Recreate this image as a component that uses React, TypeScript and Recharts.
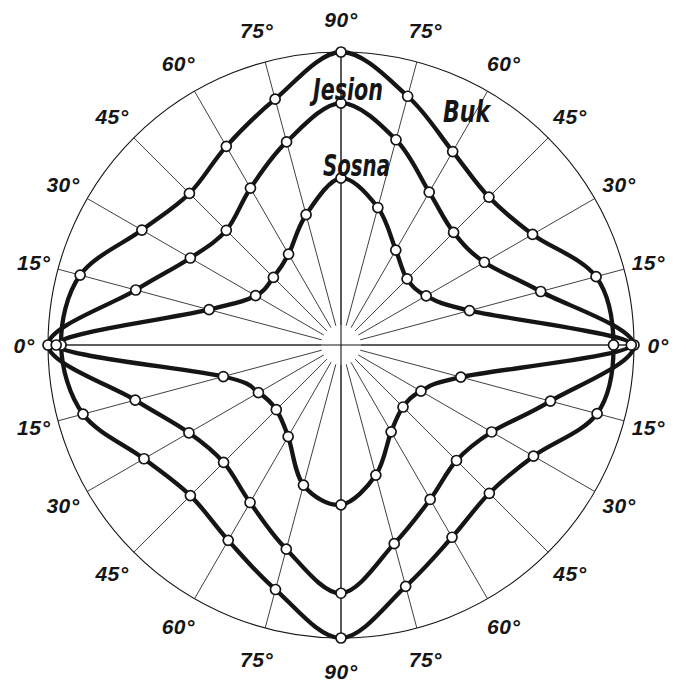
import React from "react";
import { RadarChart, Radar, PolarGrid, PolarAngleAxis, PolarRadiusAxis } from "recharts";

// geometry of the drawing (page px)
const W = 686;
const H = 683;
const CX = 341;
const CY = 345;
const R = 293;
const HUB = 20; // spokes stop short of the centre

// categories run clockwise from the right-hand 0° mark
const angleLabels = [
  "0°", "15°", "30°", "45°", "60°", "75°", "90°", "75°", "60°", "45°", "30°", "15°",
  "0°", "15°", "30°", "45°", "60°", "75°", "90°", "75°", "60°", "45°", "30°", "15°",
];

// relative values (outer circle = 1)
const buk = [
  0.925, 0.898, 0.741, 0.695, 0.74, 0.842, 1.0, 0.854, 0.753, 0.707, 0.76, 0.905,
  0.952, 0.916, 0.769, 0.712, 0.767, 0.859, 1.0, 0.87, 0.745, 0.693, 0.737, 0.894,
];
const jesion = [
  1.0, 0.721, 0.564, 0.525, 0.58, 0.68, 0.836, 0.701, 0.593, 0.535, 0.57, 0.707,
  1.0, 0.705, 0.564, 0.521, 0.59, 0.697, 0.813, 0.705, 0.573, 0.51, 0.533, 0.684,
];
const sosna = [
  0.99, 0.381, 0.265, 0.248, 0.294, 0.42, 0.512, 0.458, 0.314, 0.262, 0.276, 0.373,
  0.97, 0.427, 0.288, 0.277, 0.311, 0.421, 0.538, 0.448, 0.328, 0.269, 0.287, 0.414,
];

const rows = angleLabels.map((_, i) => ({ slot: i, buk: buk[i], jesion: jesion[i], sosna: sosna[i] }));

const INK = "#151515";
const margin = { top: 0, right: 0, bottom: 0, left: 0 };

// closed Catmull-Rom through the radar points
function smoothClosedPath(pts: { x: number; y: number }[]) {
  const n = pts.length;
  if (!n) return "";
  let d = `M${pts[0].x},${pts[0].y}`;
  for (let i = 0; i < n; i++) {
    const p0 = pts[(i - 1 + n) % n];
    const p1 = pts[i];
    const p2 = pts[(i + 1) % n];
    const p3 = pts[(i + 2) % n];
    const c1x = p1.x + (p2.x - p0.x) / 6;
    const c1y = p1.y + (p2.y - p0.y) / 6;
    const c2x = p2.x - (p3.x - p1.x) / 6;
    const c2y = p2.y - (p3.y - p1.y) / 6;
    d += ` C${c1x},${c1y} ${c2x},${c2y} ${p2.x},${p2.y}`;
  }
  return d + " Z";
}

const SmoothShape = (props: any) => (
  <path d={smoothClosedPath(props.points || [])} fill="none" stroke={INK} strokeWidth={4.3} strokeLinejoin="round" />
);

// labels sit a little closer in near the horizontal
const AngleTick = (props: any) => {
  const { x, y, payload } = props;
  const a = Math.atan2(y - CY, x - CX);
  const lr = 326 - 9 * Math.pow(Math.abs(Math.cos(a)), 4);
  return (
    <text
      x={CX + Math.cos(a) * lr}
      y={CY + Math.sin(a) * lr}
      textAnchor="middle"
      dominantBaseline="central"
      fontFamily="'Liberation Sans', Arial, sans-serif"
      fontStyle="italic"
      fontWeight="bold"
      fontSize={21}
      letterSpacing={0.5}
      fill={INK}
    >
      {angleLabels[payload.value]}
    </text>
  );
};

const dot = { r: 5, fill: "#fff", stroke: INK, strokeWidth: 1.7 };

const layer: React.CSSProperties = { position: "absolute", left: 0, top: 0 };

export default function App() {
  return (
    <div style={{ position: "absolute", left: 0, top: 0, width: W, height: H, background: "#fff" }}>
      {/* outer circle and the full cross through the centre */}
      <div style={layer}>
        <RadarChart width={W} height={H} cx={CX} cy={CY} outerRadius={R} startAngle={0} endAngle={-360} data={rows} margin={margin}>
          <PolarGrid gridType="circle" polarRadius={[R]} polarAngles={[0, 90, 180, 270]} stroke={INK} strokeWidth={1.1} strokeOpacity={1} />
        </RadarChart>
      </div>

      {/* spokes, angle labels and the three curves */}
      <div style={layer}>
        <RadarChart
          width={W}
          height={H}
          cx={CX}
          cy={CY}
          innerRadius={HUB}
          outerRadius={R}
          startAngle={0}
          endAngle={-360}
          data={rows}
          margin={margin}
        >
          <PolarGrid gridType="circle" polarRadius={[]} stroke="#2a2a2a" strokeWidth={0.9} strokeOpacity={1} />
          <PolarAngleAxis dataKey="slot" tick={<AngleTick />} tickLine={false} axisLine={false} />
          <PolarRadiusAxis domain={[HUB / R, 1]} tick={false} axisLine={false} />
          <Radar dataKey="buk" stroke={INK} fill="none" isAnimationActive={false} dot={dot} shape={SmoothShape} />
          <Radar dataKey="jesion" stroke={INK} fill="none" isAnimationActive={false} dot={dot} shape={SmoothShape} />
          <Radar dataKey="sosna" stroke={INK} fill="none" isAnimationActive={false} dot={dot} shape={SmoothShape} />
        </RadarChart>
      </div>

      {/* curve names */}
      <svg width={W} height={H} style={{ ...layer, pointerEvents: "none" }}>
        <g fontFamily="'DejaVu Sans', sans-serif" fontStyle="italic" fontWeight="bold" fontSize={30} fill={INK}>
          <text x={313} y={100} textLength={70} lengthAdjust="spacingAndGlyphs">Jesion</text>
          <text x={443} y={122} textLength={47} lengthAdjust="spacingAndGlyphs">Buk</text>
          <text x={323} y={176} textLength={67} lengthAdjust="spacingAndGlyphs">Sosna</text>
        </g>
      </svg>
    </div>
  );
}
